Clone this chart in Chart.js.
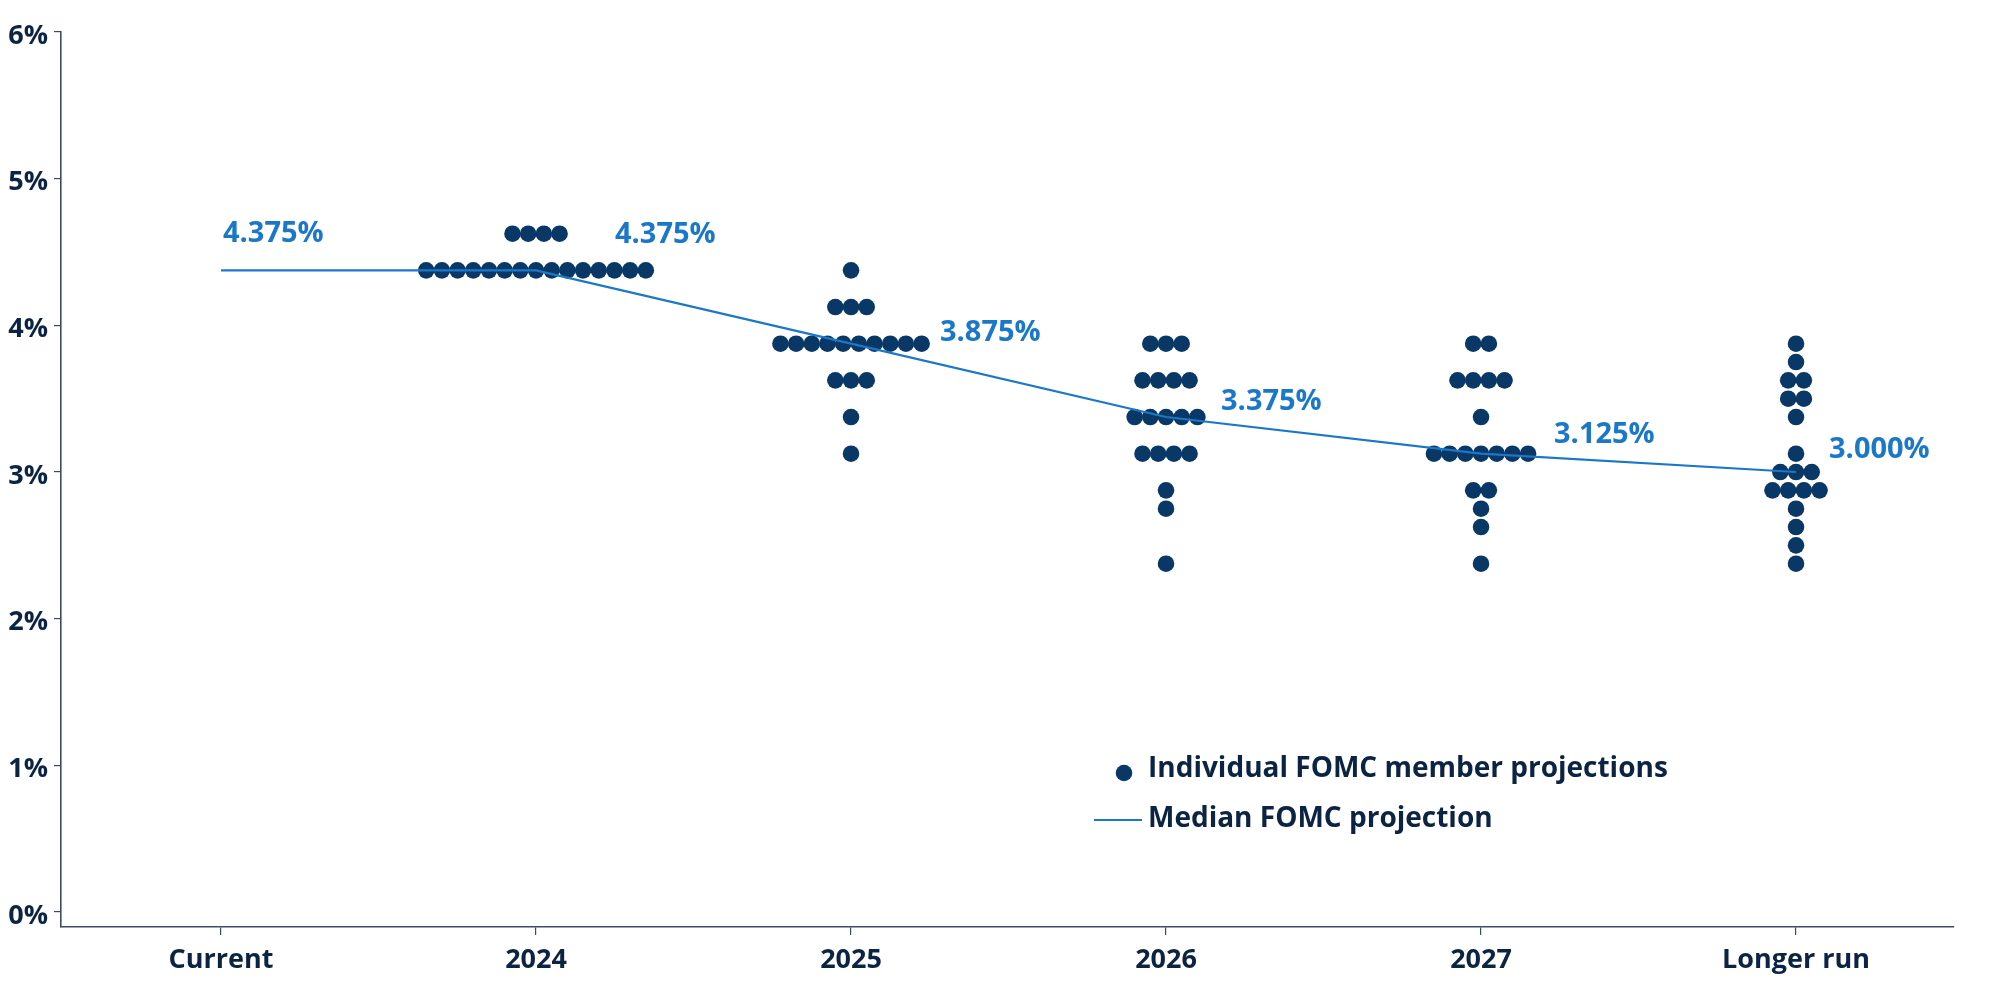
<!DOCTYPE html>
<html>
<head>
<meta charset="utf-8">
<script src="https://cdn.jsdelivr.net/npm/chart.js@4.4.1/dist/chart.umd.min.js"></script>
<style>
  html, body { margin: 0; padding: 0; background: #ffffff; }
  #wrap { width: 2000px; height: 992px; }
</style>
</head>
<body>
<div id="wrap"><canvas id="c" width="2000" height="992"></canvas></div>
<script>
// ---- Data ----
const categories = ['Current', '2024', '2025', '2026', '2027', 'Longer run'];
const medianValues = [4.375, 4.375, 3.875, 3.375, 3.125, 3.000];
const medianLabels = ['4.375%', '4.375%', '3.875%', '3.375%', '3.125%', '3.000%'];
const yTickValues = [0, 1, 2, 3, 4, 5, 6];

// Individual FOMC member projections (one value per participant)
const dots2024 = [4.625, 4.625, 4.625, 4.625,
  4.375, 4.375, 4.375, 4.375, 4.375, 4.375, 4.375, 4.375, 4.375, 4.375, 4.375, 4.375, 4.375, 4.375, 4.375];
const dots2025 = [4.375,
  4.125, 4.125, 4.125,
  3.875, 3.875, 3.875, 3.875, 3.875, 3.875, 3.875, 3.875, 3.875, 3.875,
  3.625, 3.625, 3.625,
  3.375,
  3.125];
const dots2026 = [3.875, 3.875, 3.875,
  3.625, 3.625, 3.625, 3.625,
  3.375, 3.375, 3.375, 3.375, 3.375,
  3.125, 3.125, 3.125, 3.125,
  2.875,
  2.75,
  2.375];
const dots2027 = [3.875, 3.875,
  3.625, 3.625, 3.625, 3.625,
  3.375,
  3.125, 3.125, 3.125, 3.125, 3.125, 3.125, 3.125,
  2.875, 2.875,
  2.75,
  2.625,
  2.375];
const dotsLonger = [3.875,
  3.75,
  3.625, 3.625,
  3.5, 3.5,
  3.375,
  3.125,
  3.0, 3.0, 3.0,
  2.875, 2.875, 2.875, 2.875,
  2.75,
  2.625,
  2.5,
  2.375];
const dotsByCategory = [[], dots2024, dots2025, dots2026, dots2027, dotsLonger];

// ---- Styles ----
const NAVY = '#0c2443';
const DOT = '#0a3866';
const BLUE = '#1b78c9';
const AXIS = '#3c4a66';
const FONT = "'Open Sans', 'DejaVu Sans', sans-serif";
const DOT_STEP = 0.0498; // horizontal spacing between dots, in category units

// Build scatter points: dots at the same level are laid side by side, centred on the category
const dotPoints = [];
dotsByCategory.forEach((vals, ci) => {
  const counts = new Map();
  vals.forEach(v => counts.set(v, (counts.get(v) || 0) + 1));
  counts.forEach((n, v) => {
    for (let k = 0; k < n; k++) {
      dotPoints.push({ x: ci + (k - (n - 1) / 2) * DOT_STEP, y: v });
    }
  });
});
const medianPoints = medianValues.map((v, i) => ({ x: i, y: v }));

// Median value labels
const labelDx = [2, 79, 89, 55, 73, 33];
const labelDy = [-37, -36, -11, -15, -19, -22];
const medianLabelPlugin = {
  id: 'medianLabels',
  afterDatasetsDraw(chart) {
    const { ctx, scales } = chart;
    ctx.save();
    ctx.font = `700 29px ${FONT}`;
    ctx.fillStyle = BLUE;
    ctx.textAlign = 'left';
    ctx.textBaseline = 'middle';
    medianValues.forEach((v, i) => {
      const px = scales.x.getPixelForValue(i) + labelDx[i];
      const py = scales.y.getPixelForValue(v) + labelDy[i];
      ctx.fillText(medianLabels[i], px, py);
    });
    ctx.restore();
  }
};

// Legend
const legendPlugin = {
  id: 'customLegend',
  afterDraw(chart) {
    const ctx = chart.ctx;
    ctx.save();
    ctx.font = `700 28px ${FONT}`;
    ctx.fillStyle = NAVY;
    ctx.textAlign = 'left';
    ctx.textBaseline = 'middle';
    ctx.fillText(chart.data.datasets[1].label, 1148, 769);
    ctx.fillText(chart.data.datasets[0].label, 1148, 819);
    ctx.beginPath();
    ctx.arc(1124, 773, 8.3, 0, Math.PI * 2);
    ctx.fillStyle = DOT;
    ctx.fill();
    ctx.beginPath();
    ctx.moveTo(1094, 820);
    ctx.lineTo(1142, 820);
    ctx.strokeStyle = BLUE;
    ctx.lineWidth = 2;
    ctx.stroke();
    ctx.restore();
  }
};

new Chart(document.getElementById('c'), {
  type: 'scatter',
  data: {
    datasets: [
      {
        type: 'line',
        label: 'Median FOMC projection',
        data: medianPoints,
        borderColor: BLUE,
        borderWidth: 2.2,
        pointRadius: 0,
        tension: 0,
        fill: false,
        order: 0
      },
      {
        type: 'scatter',
        label: 'Individual FOMC member projections',
        data: dotPoints,
        backgroundColor: DOT,
        borderWidth: 0,
        pointRadius: 8.3,
        pointHoverRadius: 8.3,
        order: 1
      }
    ]
  },
  options: {
    responsive: false,
    animation: false,
    events: [],
    layout: { padding: { top: 32, right: 46, bottom: 0, left: 0 } },
    plugins: {
      legend: { display: false },
      tooltip: { enabled: false }
    },
    scales: {
      x: {
        type: 'linear',
        min: -0.508,
        max: 5.5015,
        afterBuildTicks(axis) { axis.ticks = categories.map((c, i) => ({ value: i })); },
        afterFit(scale) { scale.height = 65; },
        ticks: {
          color: NAVY,
          font: { family: FONT, size: 27, weight: '700' },
          padding: 9,
          maxRotation: 0,
          autoSkip: false,
          callback: (v) => categories[v]
        },
        grid: { drawOnChartArea: false, drawTicks: true, tickLength: 8, color: AXIS, lineWidth: 1.2 },
        border: { display: true, color: AXIS, width: 1.6 }
      },
      y: {
        type: 'linear',
        min: -0.102,
        max: 6,
        afterBuildTicks(axis) { axis.ticks = yTickValues.map(v => ({ value: v })); },
        afterFit(scale) { scale.width = 61; },
        ticks: {
          color: NAVY,
          font: { family: FONT, size: 27, weight: '700' },
          padding: 6,
          labelOffset: 4,
          callback: (v) => v + '%'
        },
        grid: { drawOnChartArea: false, drawTicks: true, tickLength: 7, color: AXIS, lineWidth: 1.2 },
        border: { display: true, color: AXIS, width: 1.6 }
      }
    }
  },
  plugins: [medianLabelPlugin, legendPlugin]
});
</script>
</body>
</html>
